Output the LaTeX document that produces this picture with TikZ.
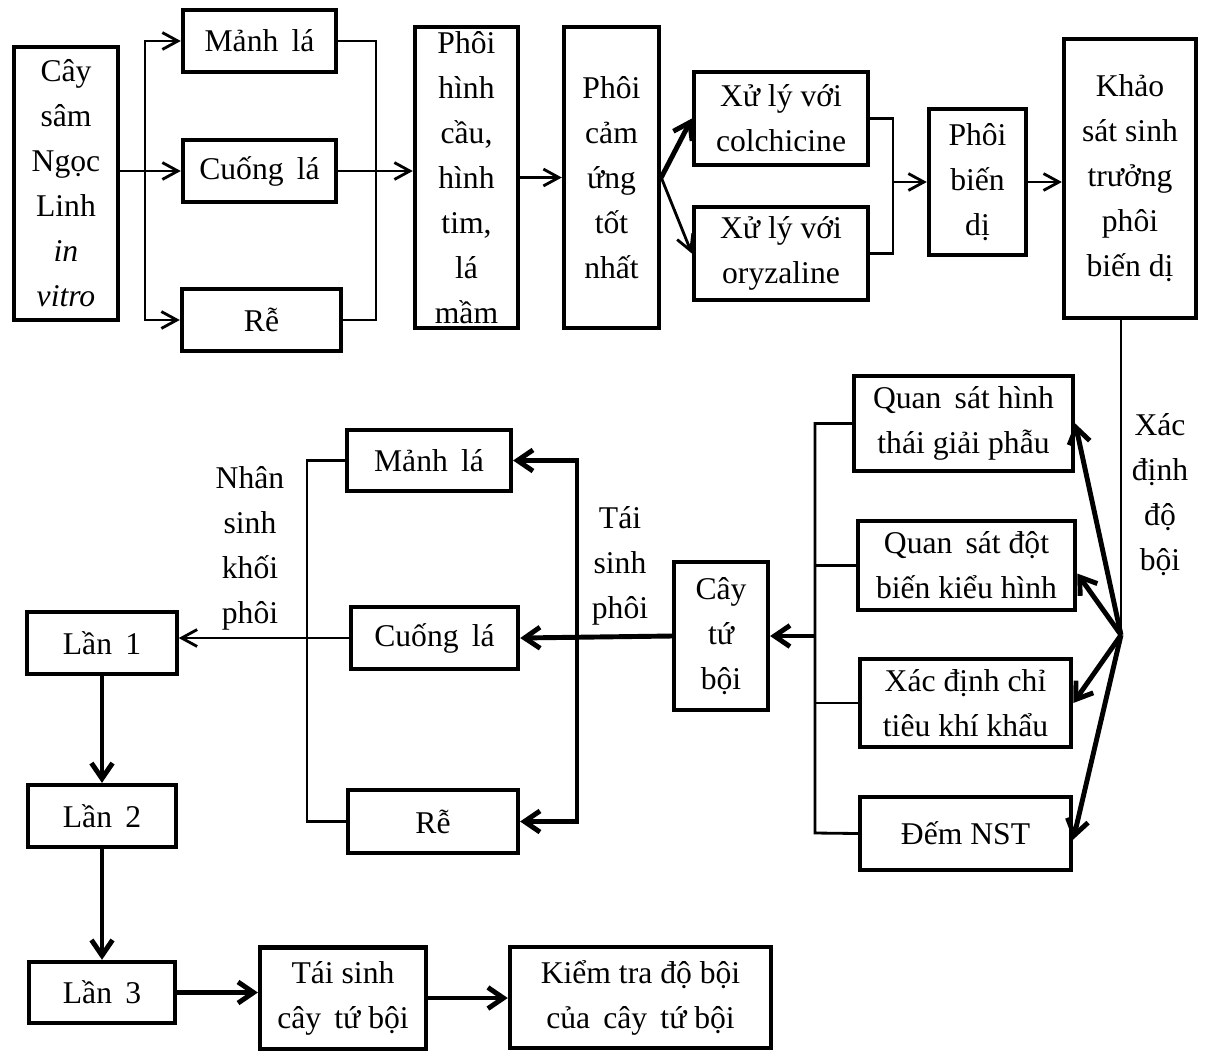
\documentclass[tikz,border=0pt]{standalone}
\usepackage{fontspec}
\setmainfont{Liberation Serif}
\usetikzlibrary{arrows.meta,positioning}
\newcommand\boxfont{\fontsize{22.5}{32}\selectfont}

\begin{document}
\begin{tikzpicture}[x=0.025cm,y=-0.025cm,
  every node/.style={font=\boxfont},
  box/.style={draw, line width=3pt, align=center, inner sep=0pt},
  thinline/.style={line width=2pt},
  thinarrow/.style={line width=2pt, -{Straight Barb[length=11pt,width=12pt]}},
  thickarrow/.style={line width=3.5pt, -{Straight Barb[length=11pt,width=15pt]}}]
  \useasboundingbox (0,0) rectangle (1207,1053);

  % top row
  \node[box, minimum width=2.6cm, minimum height=6.83cm] (cay) at (66,183.5) {Cây\\sâm\\Ngọc\\Linh\\\textit{in}\\\textit{vitro}};
  \node[box, minimum width=3.83cm, minimum height=1.55cm] (manh1) at (259.5,41) {Mảnh\, lá};
  \node[box, minimum width=3.83cm, minimum height=1.55cm] (cuong1) at (259.5,171) {Cuống\, lá};
  \node[box, minimum width=3.98cm, minimum height=1.55cm] (re1) at (261.5,320) {Rễ};
  \node[box, minimum width=2.58cm, minimum height=7.53cm] (phoi1) at (466.5,177.5) {Phôi\\hình\\cầu,\\hình\\tim,\\lá\\mầm};
  \node[box, minimum width=2.38cm, minimum height=7.53cm] (phoi2) at (611.5,177.5) {Phôi\\cảm\\ứng\\tốt\\nhất};
  \node[box, minimum width=4.35cm, minimum height=2.33cm] (xuly1) at (781,118.5) {Xử lý với\\colchicine};
  \node[box, minimum width=4.35cm, minimum height=2.33cm] (xuly2) at (781,253.5) {Xử lý với\\oryzaline};
  \node[box, minimum width=2.43cm, minimum height=3.65cm] (phoibd) at (977.5,182) {Phôi\\biến\\dị};
  \node[box, minimum width=3.3cm, minimum height=6.98cm] (khaosat) at (1130,178.5) {Khảo\\sát sinh\\trưởng\\phôi\\biến dị};

  % right column
  \node[box, minimum width=5.48cm, minimum height=2.38cm] (quan1) at (963.5,423.5) {Quan\, sát hình\\thái giải phẫu};
  \node[box, minimum width=5.43cm, minimum height=2.23cm] (quan2) at (966.5,565.5) {Quan\, sát đột\\biến kiểu hình};
  \node[box, minimum width=5.28cm, minimum height=2.2cm] (xacdinh) at (965.5,703) {Xác định chỉ\\tiêu khí khẩu};
  \node[box, minimum width=5.28cm, minimum height=1.83cm] (dem) at (965.5,833.5) {Đếm NST};
  \node (lbdobo) at (1160,495) [align=center] {Xác\\định\\độ\\bội};

  % middle
  \node[box, minimum width=2.35cm, minimum height=3.7cm] (caytb) at (721,636) {Cây\\tứ\\bội};
  \node[box, minimum width=4.1cm, minimum height=1.53cm] (manh2) at (429,460.5) {Mảnh\, lá};
  \node[box, minimum width=4.18cm, minimum height=1.55cm] (cuong2) at (434.5,638) {Cuống\, lá};
  \node[box, minimum width=4.25cm, minimum height=1.58cm] (re2) at (433,821.5) {Rễ};
  \node (lbtaisinh) at (620,566) [align=center] {Tái\\sinh\\phôi};
  \node (lbnhan) at (250,548) [align=center] {Nhân\\sinh\\khối\\phôi};

  % bottom
  \node[box, minimum width=3.73cm, minimum height=1.55cm] (lan1) at (102,643) {Lần\, 1};
  \node[box, minimum width=3.7cm, minimum height=1.55cm] (lan2) at (102,816) {Lần\, 2};
  \node[box, minimum width=3.63cm, minimum height=1.53cm] (lan3) at (102,992.5) {Lần\, 3};
  \node[box, minimum width=4.15cm, minimum height=2.53cm] (taisinh) at (343,998) {Tái sinh\\cây\, tứ bội};
  \node[box, minimum width=6.53cm, minimum height=2.53cm] (kiemtra) at (640.5,997.5) {Kiểm tra độ bội\\của\, cây\, tứ bội};

  % bus points
  \coordinate (b1) at (145,172);
  \coordinate (b2) at (376,320);
  \coordinate (b3) at (893,253.5);
  \coordinate (hub) at (1121,635);
  \coordinate (b4) at (815,833);
  \coordinate (b5) at (577,636);
  \coordinate (b6) at (307,821.5);

  % connectors
  \draw[thinarrow] (cay.east |- cuong1.west) -- (cuong1.west);
  \draw[thinarrow] (b1) |- (manh1.west);
  \draw[thinarrow] (b1) |- (re1.west);
  \draw[thinline] (manh1.east) -| (b2) -- (re1.east);
  \draw[thinarrow] (cuong1.east) -- (phoi1.west |- cuong1.east);
  \draw[thinarrow] (phoi1.east) -- (phoi2.west);
  \draw[thickarrow] (phoi2.east) -- (xuly1.west);
  \draw[thinarrow] (phoi2.east) -- (xuly2.west);
  \draw[thinline] (xuly1.east) -| (b3) -- (xuly2.east);
  \draw[thinarrow] (phoibd.west -| b3) -- (phoibd.west);
  \draw[thinarrow] (phoibd.east) -- (khaosat.west |- phoibd.east);
  \draw[thinline] (hub |- khaosat.south) -- (hub);

  \draw[thickarrow] (hub) -- (quan1.east);
  \draw[thickarrow] (hub) -- ([yshift=-0.2cm]quan2.east);
  \draw[thickarrow] (hub) -- (xacdinh.east);
  \draw[thickarrow] (hub) -- ([yshift=-0.15cm]dem.east);

  \draw[thinline] (quan1.west) -| (b4) -- (dem.west);
  \draw[thinline] (quan2.west) -- (quan2.west -| b4);
  \draw[thinline] (xacdinh.west) -- (xacdinh.west -| b4);
  \draw[thickarrow] (caytb.east -| b4) -- (caytb.east);

  \draw[thickarrow] (caytb.west) -- (cuong2.east);
  \draw[thickarrow] (b5) |- (manh2.east);
  \draw[thickarrow] (b5) |- (re2.east);
  \draw[thinline] (manh2.west) -| (b6) -- (re2.west);
  \draw[thinarrow] (cuong2.west) -- (cuong2.west -| lan1.east);

  \draw[thickarrow] (lan1.south) -- (lan2.north);
  \draw[thickarrow] (lan2.south) -- (lan3.north);
  \draw[thickarrow] (lan3.east) -- (lan3.east -| taisinh.west);
  \draw[thickarrow] (taisinh.east) -- (taisinh.east -| kiemtra.west);
\end{tikzpicture}
\end{document}
